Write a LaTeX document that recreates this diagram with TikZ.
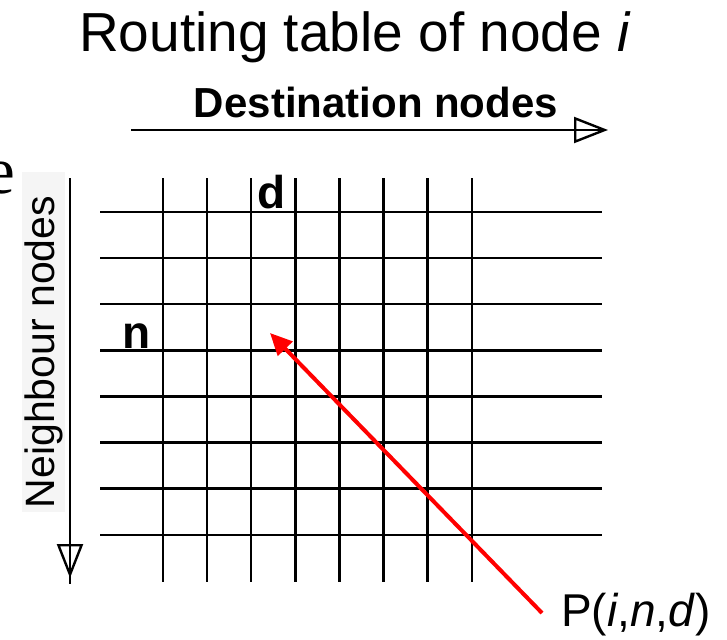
\documentclass[tikz,border=0pt]{standalone}
\usepackage{fontspec}
\setmainfont{Liberation Sans}
\newfontfamily\serifpart{Liberation Serif}
\usetikzlibrary{arrows.meta,positioning}

\begin{document}
\begin{tikzpicture}[
        x=1pt, y=-1pt,
        gridline/.style={line width=2.4pt, black},
        axisline/.style={line width=2.4pt, black},
        openhead/.style={axisline, -{Triangle[open, length=34pt, width=26pt]}},
        pointer/.style={line width=4pt, red, -{Triangle[length=22pt, width=20pt]}},
        heading/.style={font=\fontsize{55}{60}\selectfont, inner sep=0pt},
        axislabel/.style={font=\bfseries\fontsize{42}{46}\selectfont, inner sep=0pt},
        celllabel/.style={font=\bfseries\fontsize{46}{50}\selectfont, inner sep=0pt},
        sidebox/.style={fill=black!4, draw=none}
    ]
    \useasboundingbox (0,0) rectangle (727,639);
    \clip (0,0) rectangle (727,639);

    % Titles
    \node[heading, anchor=base] (title) at (355,52) {Routing table of node \textit{i}};
    \node[anchor=base east, inner sep=0pt, font=\serifpart\fontsize{67}{70}\selectfont] (cut) at (15,193) {e};

    % Grid
    \foreach \i in {0,...,7}
        \draw[gridline] ({163+44.1*\i},178) -- ({163+44.1*\i},582);
    \foreach \j in {0,...,7}
        \draw[gridline] (100,{212+46.1*\j}) -- (602,{212+46.1*\j});

    % Axes
    \coordinate (hstart) at (131,130);
    \coordinate (htip) at (608,130);
    \coordinate (vstart) at (70,178);
    \coordinate (vtip) at (70,578);
    \draw[axisline] (hstart) -- ([xshift=-6pt]htip);
    \draw[openhead] (hstart) -- (htip);
    \draw[axisline] (vstart) -- ([yshift=-6pt]vtip);
    \draw[openhead] (vstart) -- (vtip);

    \node[axislabel, anchor=base] (dest) at (376,118) {Destination nodes};
    \fill[sidebox] (22,172) rectangle (65,512);
    \node[inner sep=0pt, rotate=90, font=\fontsize{41}{44}\selectfont] (neigh) at (44,352) {Neighbour nodes};

    % Cell labels
    \node[celllabel, anchor=base] (d) at (272,208) {d};
    \node[celllabel, anchor=base] (n) at (137,348) {n};

    % Pointer
    \coordinate (pstart) at (542,613);
    \coordinate (cell) at (270,333);
    \draw[pointer] (pstart) -- (cell);
    \node[anchor=base west, inner sep=0pt, font=\fontsize{46}{50}\selectfont] (pind) at (561,626) {P(\textit{i},\textit{n},\textit{d})};

\end{tikzpicture}
\end{document}
